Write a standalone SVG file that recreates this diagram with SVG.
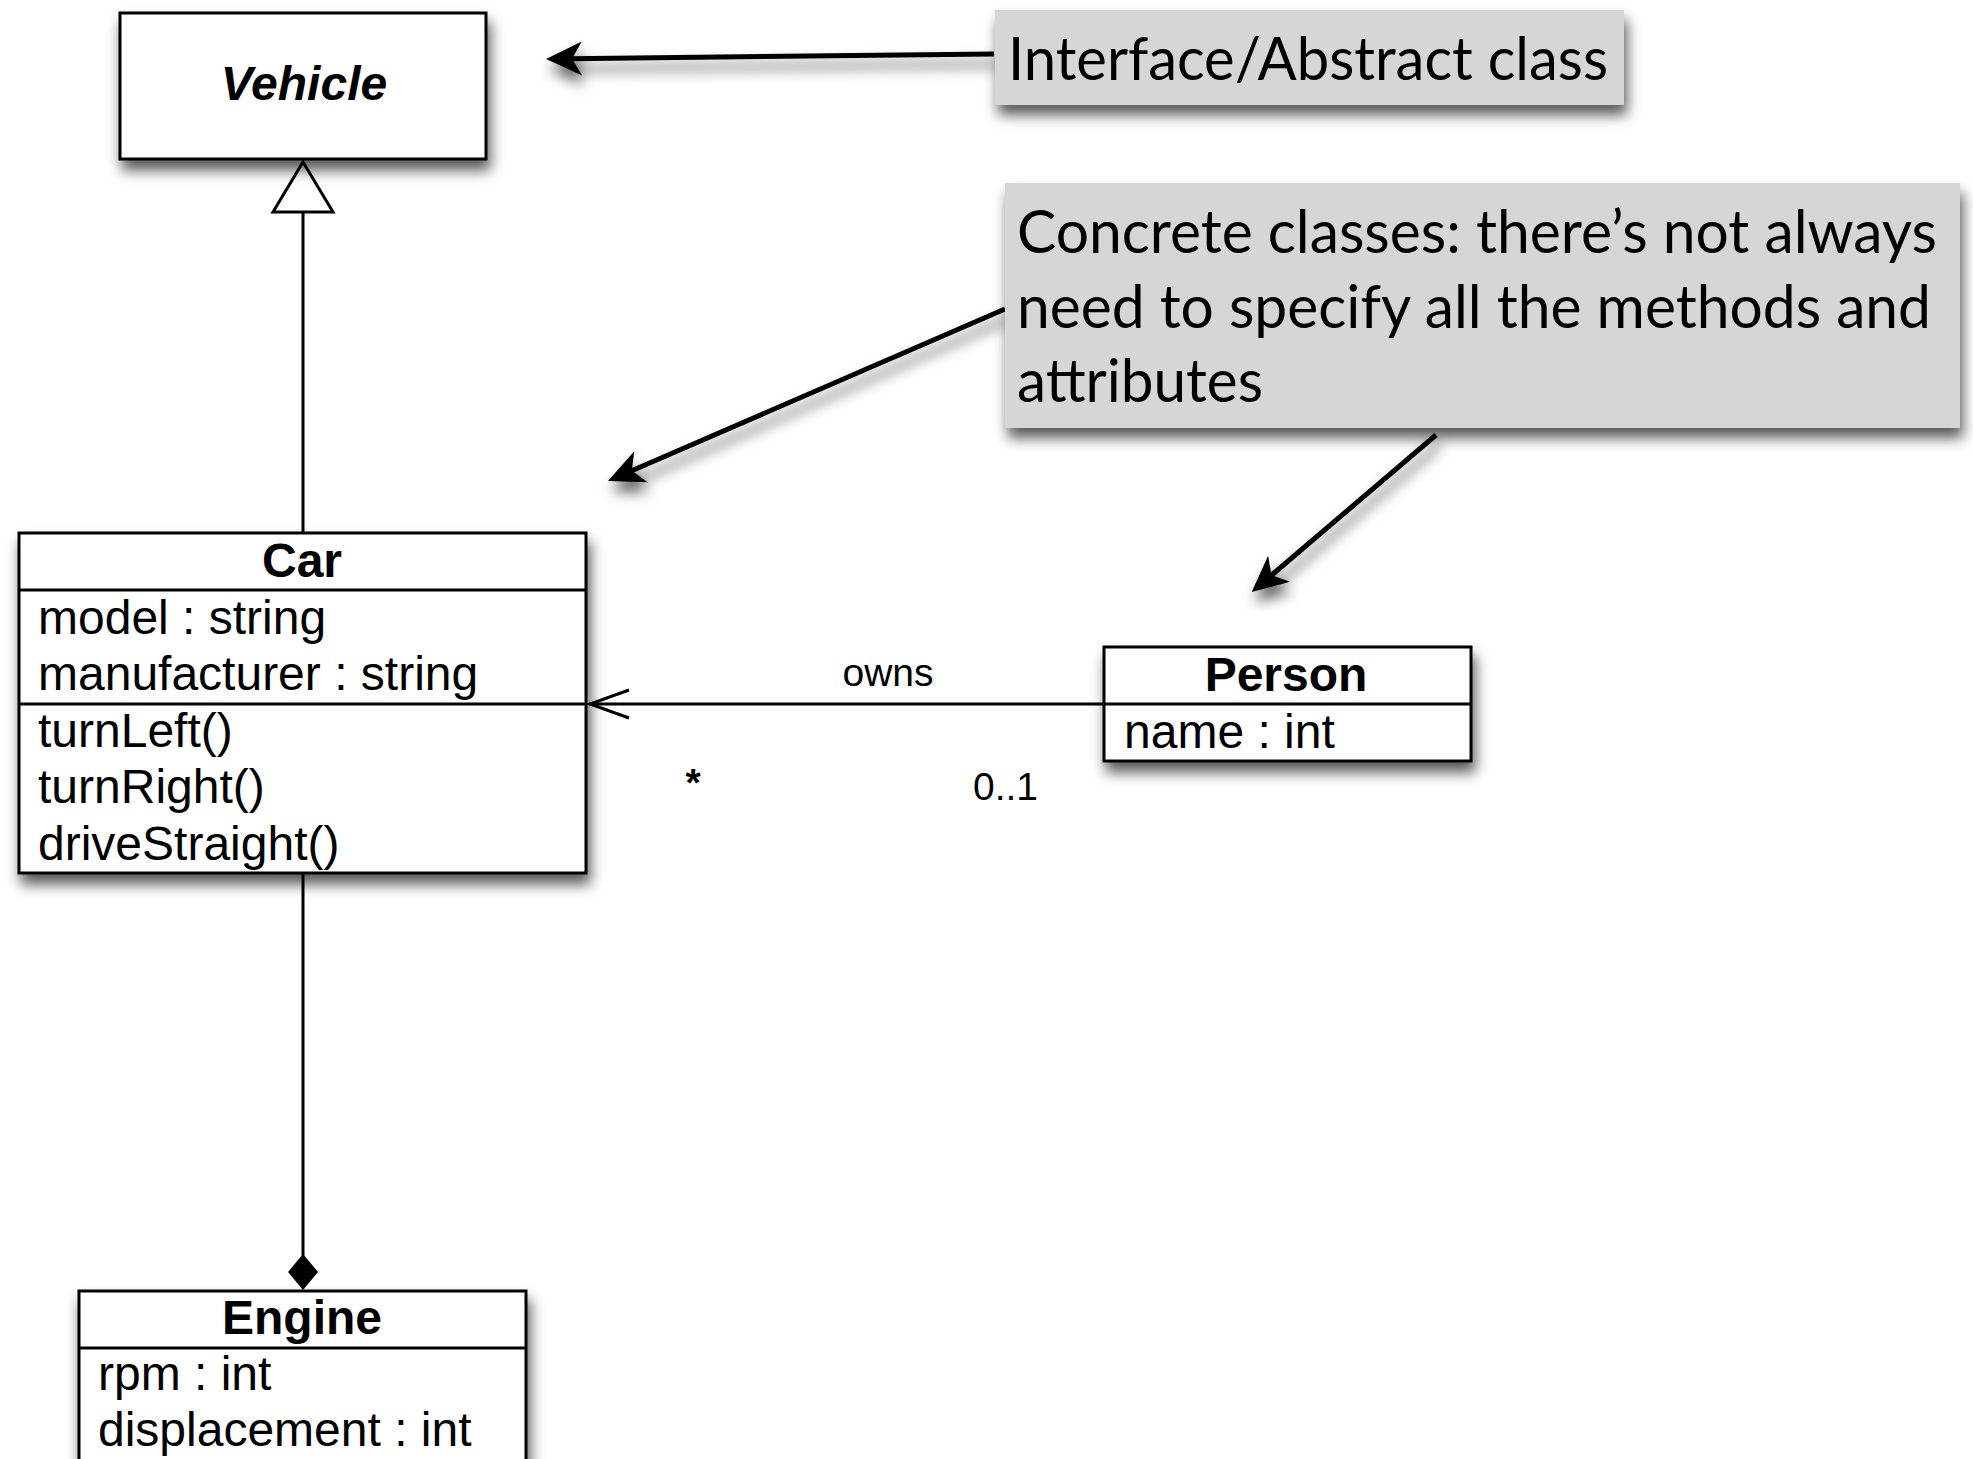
<svg xmlns="http://www.w3.org/2000/svg" width="1973" height="1459" viewBox="0 0 1973 1459">
<style>
.box{fill:#fff;stroke:#000;stroke-width:3}
.sep{stroke:#000;stroke-width:3}
.uml{font-family:"Liberation Sans",Arial,sans-serif;font-size:48px;fill:#000}
.title{font-weight:bold;text-anchor:middle}
.note{fill:#d6d6d6}
.ntxt{font-family:Lato,"Open Sans",sans-serif;font-size:60px;fill:#000}
.lbl{font-family:"Liberation Sans",Arial,sans-serif;font-size:39px;fill:#000}
.callout{stroke:#000;stroke-width:5;fill:none}
.edge{stroke:#000;stroke-width:3;fill:none}
</style>
<defs>
<filter id="sh" x="-20%" y="-20%" width="140%" height="170%">
<feDropShadow dx="3" dy="10" stdDeviation="7" flood-color="#000" flood-opacity="0.65"/>
</filter>
<marker id="barb" viewBox="-40 -20 80 40" refX="-24" refY="0" markerWidth="80" markerHeight="40" markerUnits="userSpaceOnUse" orient="auto">
<path d="M0,0 L-36,-17 L-26,0 L-36,17 z" fill="#000"/>
</marker>
</defs>

<g id="connectors">
<line class="edge" x1="303" y1="212" x2="303" y2="533"/>
<polygon points="303,162 333,212 273,212" fill="#fff" stroke="#000" stroke-width="3"/>
<line class="edge" x1="303" y1="873" x2="303" y2="1256"/>
<polygon points="303,1254 318,1272 303,1290 288,1272" fill="#000"/>
<line class="edge" x1="589" y1="704" x2="1104" y2="704"/>
<polyline class="edge" points="629,690 590,704 629,718"/>
<text class="lbl" x="888" y="686" text-anchor="middle">owns</text>
<text class="lbl" x="693" y="796" text-anchor="middle" font-weight="bold">*</text>
<text class="lbl" x="973" y="800">0..1</text>
<g filter="url(#sh)">
<line class="callout" x1="994" y1="54" x2="570" y2="58.7" marker-end="url(#barb)"/>
<line class="callout" x1="1005" y1="309" x2="630" y2="471.5" marker-end="url(#barb)"/>
<line class="callout" x1="1436" y1="435" x2="1270" y2="576.5" marker-end="url(#barb)"/>
</g>
</g>

<g id="vehicle">
<rect class="box" x="120" y="13" width="366" height="146" filter="url(#sh)"/>
<text class="uml title" x="304" y="100" font-style="italic">Vehicle</text>
</g>

<g id="note-interface">
<rect class="note" x="995" y="10" width="629" height="95" filter="url(#sh)"/>
<text class="ntxt" x="1008" y="80" textLength="600" lengthAdjust="spacingAndGlyphs">Interface/Abstract class</text>
</g>

<g id="note-concrete">
<rect class="note" x="1005" y="183" width="955" height="245" filter="url(#sh)"/>
<text class="ntxt" x="1017" y="253" textLength="920" lengthAdjust="spacingAndGlyphs">Concrete classes: there’s not always</text>
<text class="ntxt" x="1017" y="328" textLength="914" lengthAdjust="spacingAndGlyphs">need to specify all the methods and</text>
<text class="ntxt" x="1017" y="402" textLength="246" lengthAdjust="spacingAndGlyphs">attributes</text>
</g>

<g id="car">
<rect class="box" x="19" y="533" width="567" height="340" filter="url(#sh)"/>
<line class="sep" x1="19" y1="590" x2="586" y2="590"/>
<line class="sep" x1="19" y1="704" x2="586" y2="704"/>
<text class="uml title" x="302" y="577">Car</text>
<text class="uml" x="38" y="634">model : string</text>
<text class="uml" x="38" y="690">manufacturer : string</text>
<text class="uml" x="38" y="747">turnLeft()</text>
<text class="uml" x="38" y="803">turnRight()</text>
<text class="uml" x="38" y="860">driveStraight()</text>
</g>

<g id="person">
<rect class="box" x="1104" y="647" width="367" height="114" filter="url(#sh)"/>
<line class="sep" x1="1104" y1="704" x2="1471" y2="704"/>
<text class="uml title" x="1286" y="691">Person</text>
<text class="uml" x="1124" y="748">name : int</text>
</g>

<g id="engine">
<rect class="box" x="79" y="1291" width="447" height="220" filter="url(#sh)"/>
<line class="sep" x1="79" y1="1348" x2="526" y2="1348"/>
<text class="uml title" x="302" y="1334">Engine</text>
<text class="uml" x="98" y="1390">rpm : int</text>
<text class="uml" x="98" y="1446">displacement : int</text>
</g>
</svg>
